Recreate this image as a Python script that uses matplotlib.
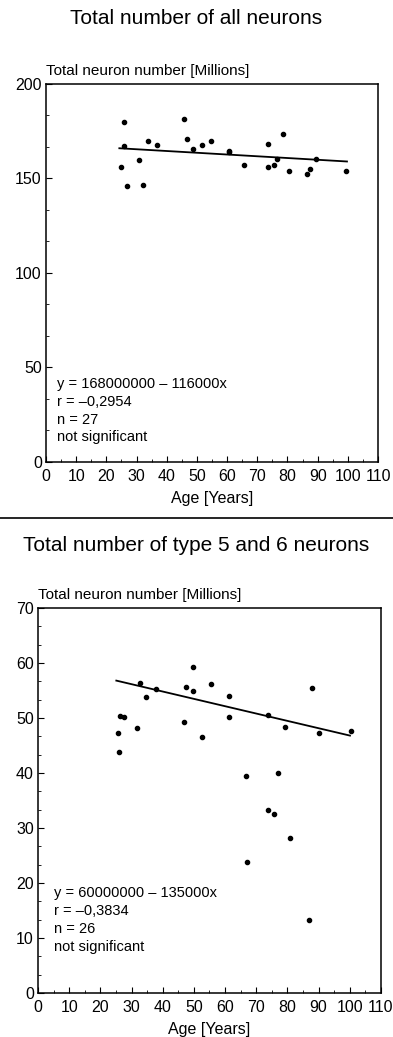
import matplotlib
matplotlib.use("Agg")
import matplotlib.pyplot as plt
from matplotlib.lines import Line2D
from matplotlib.ticker import MultipleLocator, AutoMinorLocator

plt.rcParams['font.family'] = ['Liberation Sans', 'DejaVu Sans']

# panel 1: all neurons (millions)
age_all = [24.9, 25.9, 25.9, 26.9, 30.9, 32.0, 33.8, 36.8, 45.6, 46.6, 48.8, 51.6, 54.7,
           60.6, 60.6, 65.6, 73.4, 73.6, 75.6, 76.5, 78.5, 80.4, 86.4, 87.5, 89.5, 99.4]
num_all = [156.2, 180.1, 167.1, 145.8, 159.7, 146.5, 169.7, 167.8, 181.5, 171.0, 165.8, 167.8, 170.1,
           164.4, 163.8, 157.4, 168.5, 156.2, 157.0, 160.4, 173.6, 154.2, 152.5, 155.1, 160.4, 154.0]
fit_all_x = [24.3, 99.7]
fit_all_y = [166.0, 159.0]
stats_all = ["y = 168000000 \u2013 116000x", "r = \u20130,2954", "n = 27", "not significant"]

# panel 2: type 5 and 6 neurons (millions)
age_56 = [25.5, 26.1, 26.4, 27.6, 31.7, 32.6, 34.7, 37.8, 46.7, 47.6, 49.6, 49.6, 52.6, 55.6,
          61.3, 61.3, 66.6, 73.9, 77.1, 79.3, 87.9, 90.1, 100.3, 67.1, 73.9, 75.8, 81.0, 87.0]
num_56 = [47.3, 43.9, 50.4, 50.2, 48.2, 56.4, 53.8, 55.2, 49.2, 55.7, 59.3, 55.0, 46.6, 56.1,
          54.0, 50.1, 39.4, 50.5, 40.0, 48.3, 55.4, 47.3, 47.7, 23.8, 33.3, 32.6, 28.1, 13.2]
fit_56_x = [25.1, 100.1]
fit_56_y = [56.8, 46.8]
stats_56 = ["y = 60000000 \u2013 135000x", "r = \u20130,3834", "n = 26", "not significant"]

fig = plt.figure(figsize=(3.93, 10.37), dpi=100)


def panel(rect, title, title_y, x, y, fx, fy, ymax, ystep, stats, sx, sy):
    ax = fig.add_axes(rect)
    ax.plot(x, y, 'o', color='black', markersize=3)
    ax.plot(fx, fy, color='black', linewidth=1.3)
    ax.set_xlim(0, 110)
    ax.set_ylim(0, ymax)
    ax.xaxis.set_major_locator(MultipleLocator(10))
    ax.xaxis.set_minor_locator(AutoMinorLocator(2))
    ax.yaxis.set_major_locator(MultipleLocator(ystep))
    ax.yaxis.set_minor_locator(AutoMinorLocator(3))
    ax.tick_params(which='both', direction='in', top=False, right=False, labelsize=11.5)
    ax.tick_params(axis='x', pad=5)
    ax.tick_params(axis='y', pad=3)
    ax.tick_params(which='major', length=4)
    ax.tick_params(which='minor', length=2.5)
    for s in ax.spines.values():
        s.set_linewidth(1.1)
    ax.set_xlabel("Age [Years]", fontsize=11.5, labelpad=5)
    ax.text(0, 1.015, "Total neuron number [Millions]", transform=ax.transAxes,
            fontsize=11, ha='left', va='bottom')
    for i, line in enumerate(stats):
        ax.text(sx, sy - i * 0.047, line, transform=ax.transAxes, fontsize=10.5,
                ha='left', va='center')
    fig.text(0.5, title_y, title, fontsize=15, ha='center', va='center')
    return ax


panel([0.117, 0.5545, 0.845, 0.3645], "Total number of all neurons", 0.982,
      age_all, num_all, fit_all_x, fit_all_y, 200, 50, stats_all, 0.033, 0.206)
panel([0.097, 0.0424, 0.872, 0.3713], "Total number of type 5 and 6 neurons", 0.474,
      age_56, num_56, fit_56_x, fit_56_y, 70, 10, stats_56, 0.047, 0.26)

fig.add_artist(Line2D([0.0, 1.0], [0.5005, 0.5005], transform=fig.transFigure,
                      color='black', linewidth=1.2))

fig.savefig("out.png", dpi=100)
